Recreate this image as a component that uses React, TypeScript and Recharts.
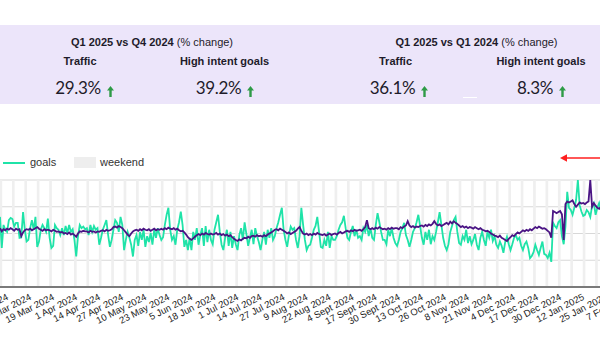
import React from "react";
import { LineChart, Line, XAxis, YAxis, CartesianGrid, ReferenceArea } from "recharts";

// day index counted from 1 Jan 2024; the first visible point is Sat 17 Feb 2024
const startDay = 47;

// indexed daily values (1 = average), one row per week, Sat..Fri
const traffic = [
  1.10, 1.04, 1.08, 1.06, 1.09, 1.07, 1.10,
  1.08, 1.05, 1.09, 1.07, 1.08, 0.95, 1.02,
  1.06, 1.08, 1.07, 1.09, 1.06, 1.08, 1.10,
  1.12, 1.09, 1.07, 1.05, 1.08, 1.06, 1.07,
  1.06, 1.04, 1.07, 1.05, 1.03, 1.04, 1.02,
  1.03, 1.00, 1.01, 0.99, 1.02, 0.98, 1.00,
  0.97, 0.94, 1.00, 1.04, 1.03, 1.05, 1.04,
  1.04, 1.02, 1.05, 1.03, 1.04, 1.02, 1.04,
  1.03, 1.05, 1.06, 1.04, 1.07, 1.05, 1.06,
  1.08, 1.12, 1.13, 1.11, 1.14, 1.12, 1.10,
  1.06, 1.02, 0.98, 0.95, 1.00, 1.04, 1.06,
  1.07, 1.05, 1.08, 1.06, 1.09, 1.07, 1.06,
  1.08, 1.05, 1.07, 1.09, 1.06, 1.08, 1.07,
  1.09, 1.07, 1.10, 1.08, 1.11, 1.09, 1.08,
  1.10, 1.07, 1.09, 1.06, 1.04, 1.05, 1.02,
  0.98, 0.93, 0.90, 0.88, 0.91, 0.94, 0.97,
  0.99, 0.97, 1.00, 0.98, 1.01, 0.99, 0.98,
  1.00, 0.98, 0.99, 1.01, 0.98, 1.00, 0.97,
  0.99, 0.96, 0.98, 0.95, 0.97, 0.93, 0.90,
  0.88, 0.86, 0.89, 0.87, 0.90, 0.92, 0.91,
  0.94, 0.92, 0.95, 0.96, 0.94, 0.97, 0.95,
  0.96, 0.94, 0.97, 0.95, 0.98, 1.00, 1.02,
  1.04, 1.07, 1.08, 1.06, 1.09, 1.07, 1.05,
  1.03, 1.00, 1.02, 0.99, 1.01, 1.03, 1.05,
  1.09, 1.12, 1.05, 1.00, 0.98, 1.00, 0.97,
  0.99, 0.97, 1.00, 0.98, 1.01, 0.99, 0.98,
  0.97, 0.99, 0.96, 0.98, 1.00, 0.97, 0.99,
  1.00, 0.98, 1.01, 1.03, 1.00, 1.02, 1.04,
  1.05, 1.03, 1.06, 1.04, 1.07, 1.05, 1.06,
  1.07, 1.05, 1.08, 1.12, 1.25, 1.10, 1.08,
  1.10, 1.08, 1.11, 1.09, 1.12, 1.10, 1.08,
  1.09, 1.07, 1.10, 1.08, 1.11, 1.09, 1.10,
  1.10, 1.08, 1.12, 1.10, 1.13, 1.15, 1.23,
  1.15, 1.12, 1.14, 1.11, 1.13, 1.12, 1.14,
  1.15, 1.13, 1.16, 1.14, 1.17, 1.15, 1.18,
  1.23, 1.18, 1.15, 1.17, 1.14, 1.16, 1.18,
  1.20, 1.17, 1.22, 1.19, 1.23, 1.20, 1.18,
  1.15, 1.12, 1.14, 1.11, 1.13, 1.10, 1.12,
  1.11, 1.09, 1.12, 1.10, 1.08, 1.10, 1.07,
  1.06, 1.04, 1.05, 1.03, 1.00, 0.98, 0.96,
  0.95, 0.93, 0.96, 0.92, 0.90, 0.88, 0.86,
  0.90, 0.93, 0.97, 0.95, 0.99, 1.02, 1.00,
  1.03, 1.06, 1.04, 1.07, 1.05, 1.08, 1.06,
  1.09, 1.12, 1.10, 1.13, 1.11, 1.09, 1.10,
  1.08, 1.05, 1.02, 0.92, 1.42, 1.40, 1.38,
  1.40, 1.42, 1.36, 0.88, 1.55, 1.60, 1.58,
  1.60, 1.62, 1.55, 1.50, 1.54, 1.58, 1.56,
  1.57, 1.55, 1.58, 1.60, 2.00, 1.50, 1.57,
  1.52, 1.48, 1.46, 1.50, 1.47, 1.49, 1.45,
];

const goals = [
  1.31, 0.73, 1.16, 1.07, 1.03, 1.25, 1.29,
  1.27, 1.13, 1.20, 1.20, 0.92, 0.93, 1.40,
  1.07, 0.85, 0.88, 1.10, 1.25, 1.07, 1.31,
  0.75, 0.85, 1.07, 1.16, 1.10, 1.03, 1.28,
  0.92, 0.73, 0.77, 1.16, 1.10, 1.07, 0.97,
  1.10, 0.97, 1.14, 1.01, 1.16, 1.03, 1.08,
  0.88, 0.57, 0.95, 1.16, 1.10, 1.13, 1.08,
  1.10, 0.97, 1.16, 1.03, 1.14, 1.07, 1.10,
  0.79, 0.92, 1.07, 1.16, 1.25, 0.97, 0.75,
  0.88, 1.07, 1.25, 1.20, 1.03, 1.31, 1.16,
  0.69, 0.88, 1.03, 0.92, 0.79, 0.57, 0.88,
  0.97, 0.77, 1.03, 0.88, 1.07, 0.75, 0.95,
  0.84, 1.01, 0.79, 1.07, 0.92, 1.10, 0.97,
  0.88, 0.93, 1.16, 1.35, 1.48, 1.07, 0.88,
  0.95, 0.79, 1.07, 1.21, 1.41, 1.16, 0.75,
  0.88, 0.69, 0.92, 0.69, 1.03, 0.88, 1.10,
  0.79, 0.97, 1.10, 0.77, 1.14, 0.84, 1.07,
  0.88, 0.80, 1.07, 1.21, 1.35, 1.03, 0.79,
  0.69, 0.92, 1.07, 0.77, 1.03, 0.73, 0.95,
  0.80, 0.69, 0.97, 1.10, 0.88, 1.21, 0.99,
  0.77, 0.92, 1.07, 0.80, 1.10, 0.95, 0.84,
  0.69, 0.88, 1.03, 0.79, 1.07, 0.92, 1.10,
  0.88, 0.95, 1.10, 1.21, 1.35, 1.48, 1.07,
  0.88, 0.75, 0.97, 1.13, 1.07, 1.10, 0.88,
  0.73, 0.95, 1.48, 1.16, 0.88, 0.69, 0.77,
  0.79, 0.92, 1.07, 1.14, 1.31, 1.03, 0.75,
  0.73, 0.88, 0.77, 1.03, 0.73, 0.95, 0.88,
  0.88, 0.95, 1.07, 1.16, 1.21, 1.33, 1.10,
  0.92, 0.88, 1.03, 1.14, 0.95, 1.07, 0.92,
  0.95, 0.88, 1.10, 1.03, 1.16, 0.95, 1.10,
  0.92, 0.88, 1.16, 1.38, 1.21, 1.03, 0.88,
  0.88, 0.80, 1.07, 0.95, 1.10, 0.92, 0.82,
  0.77, 0.88, 1.03, 1.10, 1.20, 0.97, 0.88,
  0.75, 0.88, 1.03, 1.10, 1.21, 1.35, 1.14,
  0.92, 0.79, 1.03, 0.88, 1.07, 0.80, 0.95,
  0.88, 1.03, 1.21, 1.40, 1.16, 0.92, 0.77,
  0.69, 0.80, 1.03, 1.14, 1.25, 1.31, 1.03,
  0.82, 0.79, 0.95, 0.88, 1.07, 0.82, 0.95,
  0.80, 0.88, 0.99, 0.79, 0.69, 0.92, 1.03,
  0.88, 0.77, 1.03, 0.92, 1.07, 0.86, 0.95,
  0.79, 0.73, 0.85, 0.77, 0.64, 0.84, 0.94,
  0.80, 0.69, 0.80, 0.92, 0.97, 0.88, 0.92,
  0.77, 0.69, 0.80, 0.85, 0.73, 0.54, 0.58,
  0.65, 0.79, 0.69, 0.60, 0.73, 0.85, 0.62,
  0.60, 0.54, 0.64, 0.47, 1.20, 1.14, 1.10,
  1.21, 1.25, 0.95, 0.80, 1.13, 1.78, 1.48,
  1.44, 1.35, 1.48, 1.63, 2.00, 1.53, 1.41,
  1.33, 1.35, 1.44, 1.40, 1.31, 1.51, 1.57,
  1.35, 1.48, 1.57, 1.44, 1.40, 1.46, 1.38,
];

// one label every 13 days from 1 Jan 2024
const tickLabels = [
  "1 Jan 2024", "14 Jan 2024", "27 Jan 2024", "9 Feb 2024", "22 Feb 2024",
  "6 Mar 2024", "19 Mar 2024", "1 Apr 2024", "14 Apr 2024", "27 Apr 2024",
  "10 May 2024", "23 May 2024", "5 Jun 2024", "18 Jun 2024", "1 Jul 2024",
  "14 Jul 2024", "27 Jul 2024", "9 Aug 2024", "22 Aug 2024", "4 Sept 2024",
  "17 Sept 2024", "30 Sept 2024", "13 Oct 2024", "26 Oct 2024", "8 Nov 2024",
  "21 Nov 2024", "4 Dec 2024", "17 Dec 2024", "30 Dec 2024", "12 Jan 2025",
  "25 Jan 2025", "7 Feb 2025",
];
const tickDays = tickLabels.map((_, i) => i * 13);

const periodTitles = ["Q1 2025 vs Q4 2024", "Q1 2025 vs Q1 2024"];
const trafficChange = ["29.3%", "36.1%"];
const goalsChange = ["39.2%", "8.3%"];

const rows = traffic.map((v, i) => ({ t: startDay + i, traffic: v, goals: goals[i] }));
const saturdays = rows.filter((r) => r.t % 7 === 5).map((r) => r.t);

const GREEN = "#1fe3a8";
const PURPLE = "#4a1484";
const FONT = "'Liberation Sans', Arial, sans-serif";

const DateTick = ({ x, y, payload }: any) => {
  const i = tickDays.indexOf(payload.value);
  const ty = y + 4;
  return (
    <text x={x} y={ty} textAnchor="end" fontSize={9.5} fill="#222" fontFamily={FONT}
      transform={`rotate(-27 ${x} ${ty})`}>
      {tickLabels[i]}
    </text>
  );
};

const UpArrow = () => (
  <svg width={7} height={11} style={{ marginLeft: 6, marginBottom: 1 }}>
    <path d="M3.5 0 L7 4.5 L4.7 4.5 L4.7 11 L2.3 11 L2.3 4.5 L0 4.5 Z" fill="#2e9b46" />
  </svg>
);

const Centered = ({ cx, top, children, style }: any) => (
  <div style={{ position: "absolute", left: cx - 120, width: 240, top, textAlign: "center",
    display: "flex", justifyContent: "center", alignItems: "flex-end", ...style }}>
    {children}
  </div>
);

const headStyle = { fontFamily: FONT, fontSize: 11, lineHeight: "13px", color: "#1e1b2a" };
const valueStyle = { fontFamily: "Lato, 'Open Sans', sans-serif", fontSize: 17, lineHeight: "20px",
  letterSpacing: -0.3, color: "#1e1b2a" };

const blocks = [
  { title: 152, tr: 80, gl: 224.5, trv: 84.5, glv: 225 },
  { title: 476.5, tr: 395.5, gl: 541, trv: 399, glv: 541.5 },
];

export default function App() {
  return (
    <div style={{ position: "fixed", left: 0, top: 0, width: 600, height: 352, overflow: "hidden", background: "#fff" }}>
      <div style={{ position: "absolute", left: 0, top: 25, width: 600, height: 79, background: "#ece5fa" }} />
      {blocks.map((b, i) => (
        <React.Fragment key={i}>
          <Centered cx={b.title} top={35.5} style={headStyle}>
            <span><b>{periodTitles[i]}</b> (% change)</span>
          </Centered>
          <Centered cx={b.tr} top={54.5} style={headStyle}><b>Traffic</b></Centered>
          <Centered cx={b.gl} top={54.5} style={headStyle}><b>High intent goals</b></Centered>
          <Centered cx={b.trv} top={78} style={valueStyle}>
            <span>{trafficChange[i]}</span><UpArrow />
          </Centered>
          <Centered cx={b.glv} top={78} style={valueStyle}>
            <span>{goalsChange[i]}</span><UpArrow />
          </Centered>
        </React.Fragment>
      ))}
      <div style={{ position: "absolute", left: 463, top: 96.5, width: 14, height: 1.5, background: "#fff" }} />

      {/* legend */}
      <div style={{ position: "absolute", left: 3, top: 161.7, width: 22, height: 2, background: GREEN }} />
      <div style={{ position: "absolute", left: 30, top: 156, ...headStyle, color: "#333" }}>goals</div>
      <div style={{ position: "absolute", left: 74, top: 157, width: 22, height: 11, background: "#eeeeee" }} />
      <div style={{ position: "absolute", left: 100, top: 156, ...headStyle, color: "#333" }}>weekend</div>

      <svg style={{ position: "absolute", left: 555, top: 150 }} width={45} height={16}>
        <line x1={10} y1={8} x2={45} y2={8} stroke="#ff1f1f" strokeWidth={1.6} />
        <path d="M5 8 L12 4.2 L12 11.8 Z" fill="#ff1f1f" />
      </svg>

      <div style={{ position: "absolute", left: 0, top: 0 }}>
        <LineChart width={660} height={352} data={rows} margin={{ top: 180, right: 0, bottom: 15, left: 0 }}>
          {saturdays.map((s) => (
            <ReferenceArea key={s} x1={s - 0.25} x2={s + 1.25} fill="#efefef" fillOpacity={1} stroke="none" ifOverflow="hidden" />
          ))}
          <CartesianGrid vertical={false} stroke="#d8d8d8" strokeWidth={1.2} />
          <XAxis dataKey="t" type="number" domain={[47, 419.33]} allowDataOverflow ticks={tickDays}
            interval={0} tick={<DateTick />} tickLine={false} height={50}
            axisLine={{ stroke: "#555", strokeWidth: 1.6 }} />
          <YAxis hide domain={[0, 2]} ticks={[0, 0.5, 1, 1.5, 2]} allowDataOverflow />
          <Line dataKey="goals" type="linear" stroke={GREEN} strokeWidth={1.8} dot={false} isAnimationActive={false} />
          <Line dataKey="traffic" type="linear" stroke={PURPLE} strokeWidth={1.8} dot={false} isAnimationActive={false} />
        </LineChart>
      </div>
    </div>
  );
}
